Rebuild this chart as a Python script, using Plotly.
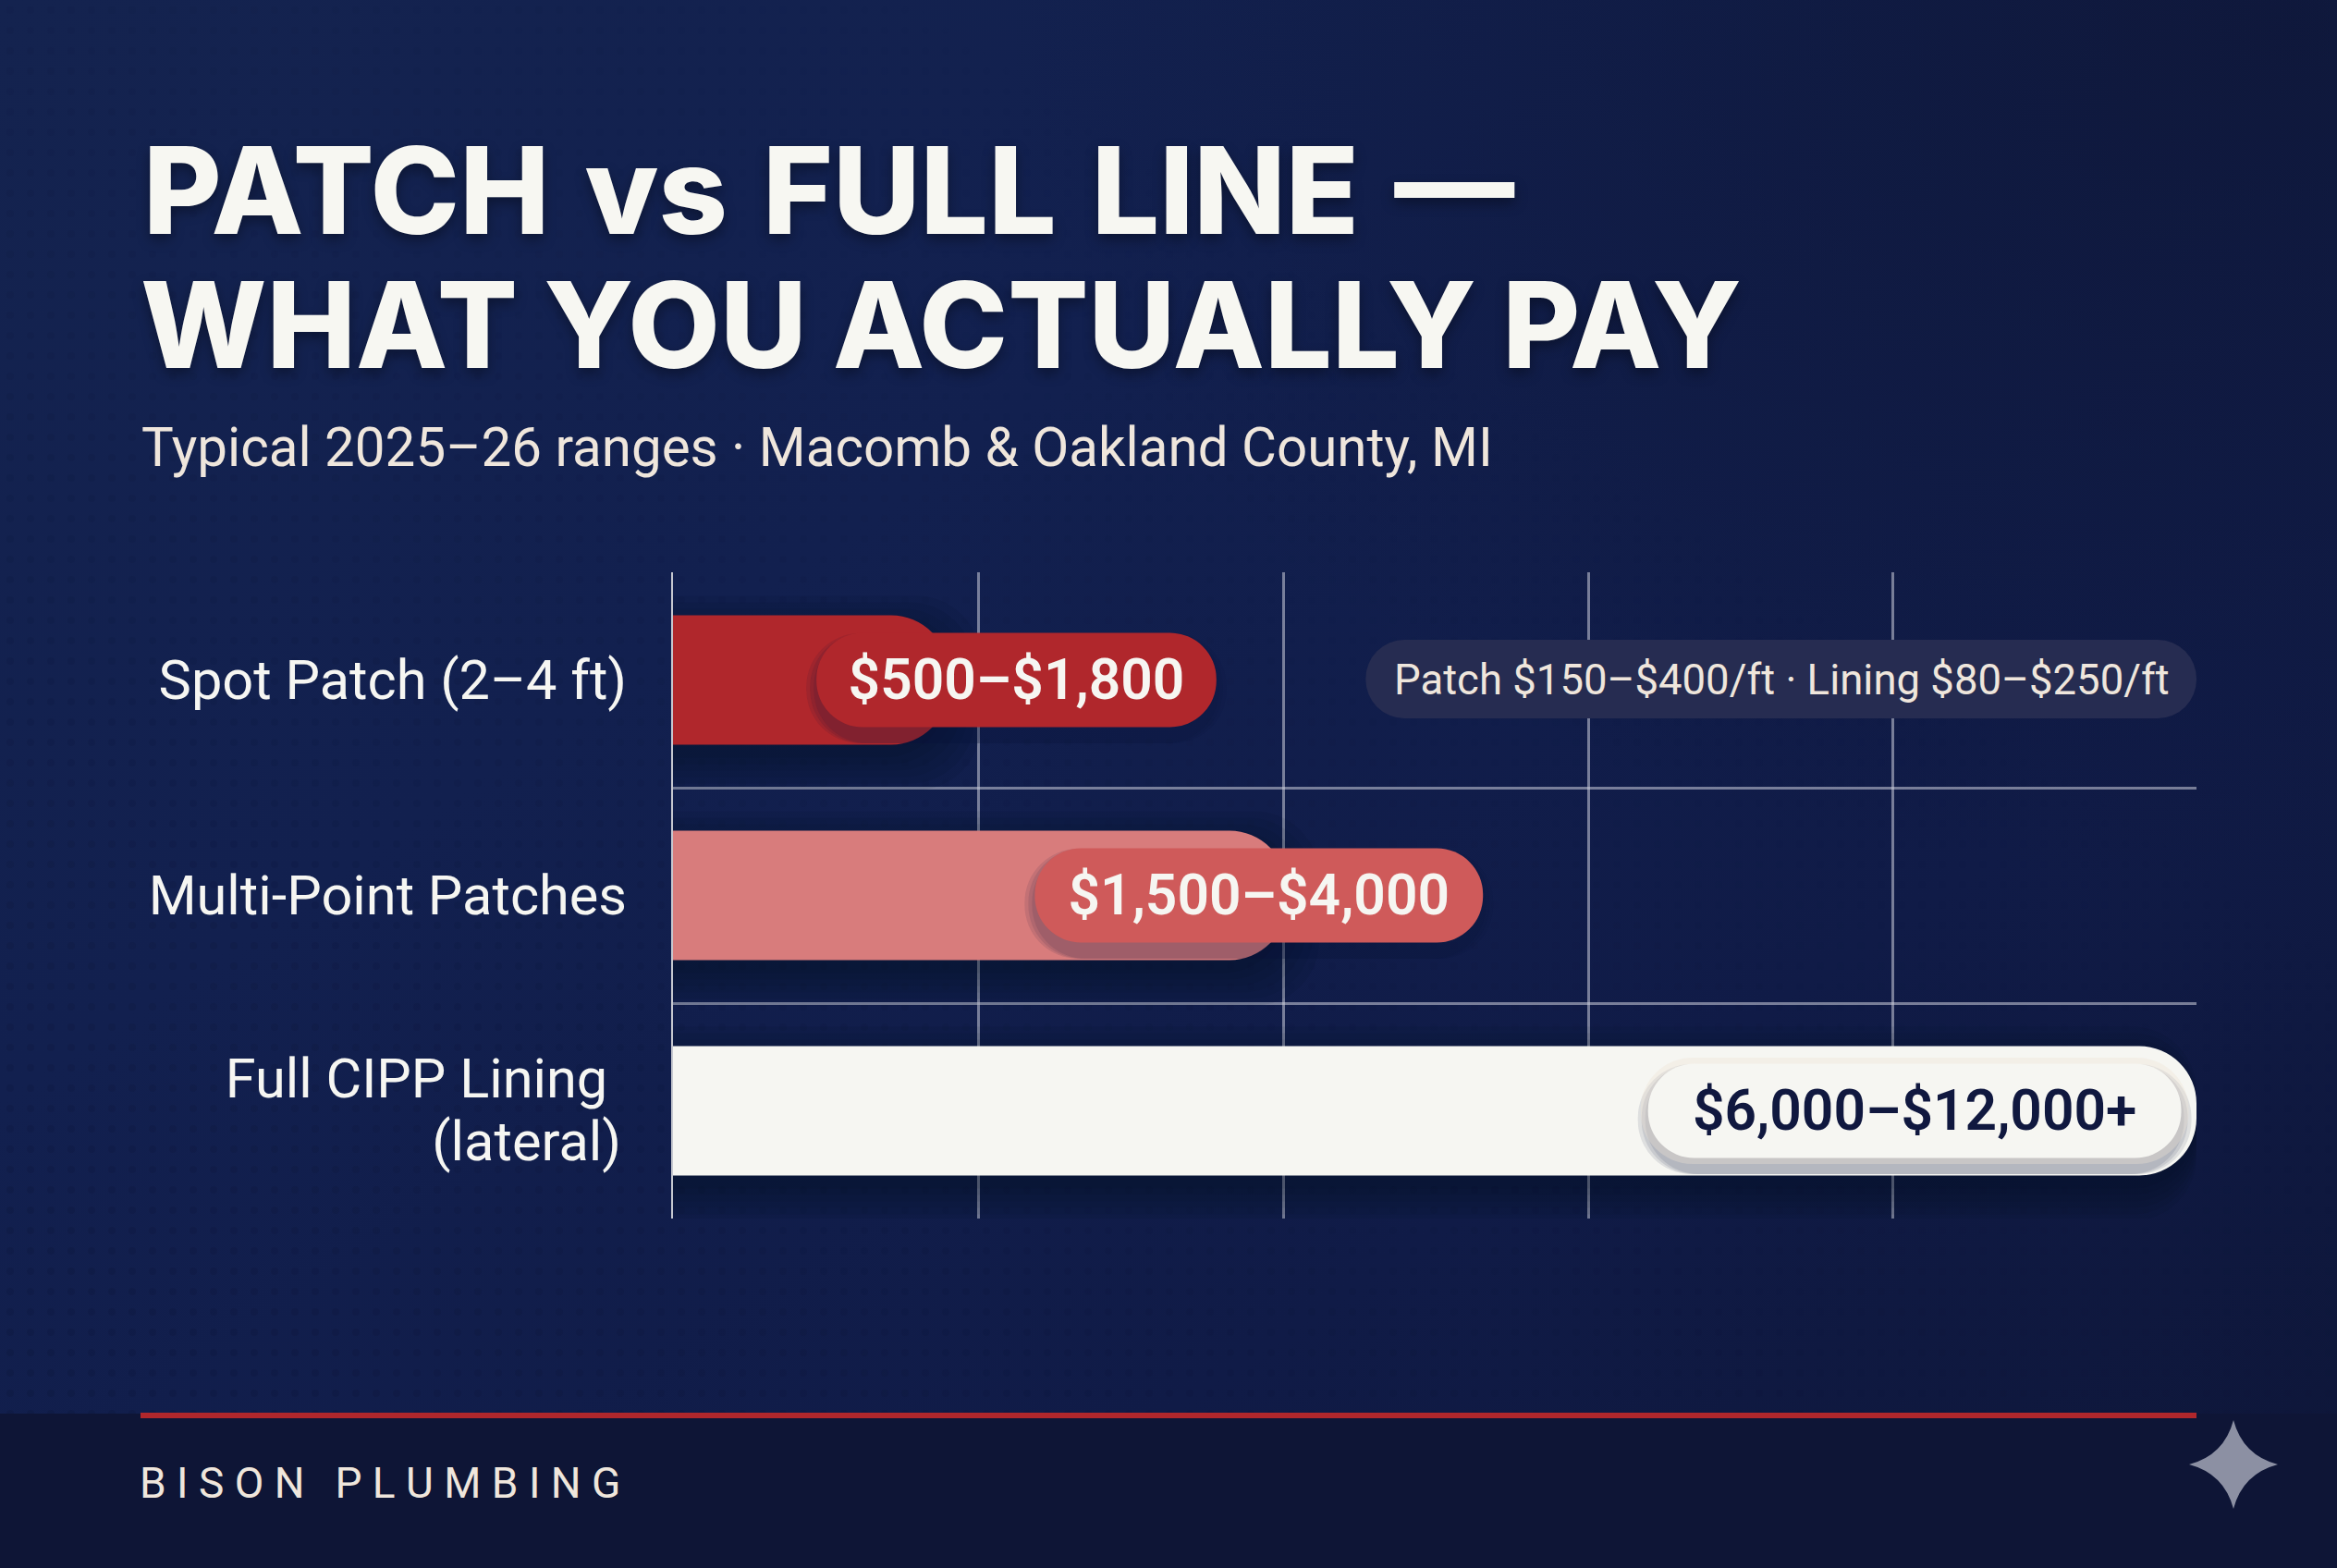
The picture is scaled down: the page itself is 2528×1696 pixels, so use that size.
import base64
import plotly.graph_objects as go

# ---------- data ----------
tick_rows = [0, 1, 1.85, 2.14]
tick_labels = ["Spot Patch (2–4 ft)", "Multi-Point Patches", "Full CIPP Lining\u00a0\u200a", "(lateral)\u200a"]
row = [0, 1, 2]
bar_end = [2170, 4835, 12000]
pill_start = [1130, 2850, 7680]
pill_end = [4280, 6380, 11880]
pill_labels = ["$500–$1,800", "$1,500–$4,000", "$6,000–$12,000+"]
note_text = "Patch $150–$400/ft · Lining $80–$250/ft"
note_start = [5456]
note_end = [12000]
grid_values = [2410, 4810, 7210, 9610]

bar_colors = ["#b0272c", "#d87c7c", "#f6f6f2"]
pill_colors = ["#b0272c", "#cf5a5a", "#f6f6f2"]
label_colors = ["#f6f6f2", "#f6f6f2", "#10183f"]

# ---------- page geometry ----------
W, H = 2528, 1696
L, R, T, B = 728, 2376, 619, 1318
PW, PH = R - L, B - T
UX = 12000 / PW          # axis units per pixel
UY = 3 / PH              # rows per pixel
HIDE = 80 * UX           # bars start left of the axis so only their far end shows rounded


def px(x):
    return (x - L) / PW


def py(y):
    return (B - y) / PH


svg = f"""<svg xmlns='http://www.w3.org/2000/svg' width='{W}' height='{H}' viewBox='0 0 {W} {H}'>
<defs>
<linearGradient id='g' x1='0' y1='0' x2='1' y2='1'>
<stop offset='0' stop-color='#14234f'/><stop offset='0.35' stop-color='#12204f'/>
<stop offset='0.7' stop-color='#101b47'/><stop offset='1' stop-color='#0e1638'/>
</linearGradient>
<radialGradient id='c' cx='0.98' cy='0.02' r='0.55'>
<stop offset='0' stop-color='#0e1636' stop-opacity='0.75'/><stop offset='1' stop-color='#0e1636' stop-opacity='0'/>
</radialGradient>
<pattern id='p' width='22' height='22' patternUnits='userSpaceOnUse'><circle cx='11' cy='11' r='4' fill='#0b1233'/></pattern>
<linearGradient id='f' x1='0' y1='1' x2='0.7' y2='0.3'>
<stop offset='0' stop-color='white' stop-opacity='0.22'/><stop offset='1' stop-color='white' stop-opacity='0'/>
</linearGradient>
<mask id='m'><rect width='{W}' height='{H}' fill='url(#f)'/></mask>
</defs>
<rect width='{W}' height='{H}' fill='url(#g)'/>
<rect width='{W}' height='{H}' fill='url(#c)'/>
<rect width='{W}' height='1529' fill='url(#p)' mask='url(#m)'/>
<rect y='1529' width='{W}' height='{H-1529}' fill='#0e1536'/>
</svg>"""
bg_uri = "data:image/svg+xml;base64," + base64.b64encode(svg.encode()).decode()

fig = go.Figure()


def hbar(y, start, end, width, color, radius):
    fig.add_trace(go.Bar(orientation="h", y=y, base=start, x=[b - a for a, b in zip(start, end)], width=width,
                         marker=dict(color=color, line=dict(width=0), cornerradius=radius),
                         hoverinfo="skip", showlegend=False))


bar_base = [-HIDE] * 3

# soft drop shadows under the bars
for k in range(6):
    grow = k * 7
    hbar([r + 14 * UY for r in row], bar_base, [min(v + grow * UX, 12000) for v in bar_end],
         (140 + grow * 2) * UY, "rgba(5,9,34,0.07)", 70)

# range bars
hbar(row, bar_base, bar_end, 140 * UY, bar_colors, 62)

# note pill
hbar([-1 * UY], note_start, note_end, 85 * UY, "#262c51", 42)

# pill shadow layers
for k in range(3):
    grow = 4 * k
    hbar([r + 9 * UY for r in row],
         [s - (3 + grow) * UX for s in pill_start],
         [e + (3 + grow) * UX for e in pill_end],
         119 * UY, "rgba(14,20,56,0.10)", 58)
# cream halo round the pale pill
hbar([2], [pill_start[2] - 8 * UX], [pill_end[2] + 8 * UX], 115 * UY, "rgba(238,226,212,0.35)", 56)

# value pills
hbar(row, pill_start, pill_end, 102 * UY, pill_colors, 50)

fig.add_trace(go.Scatter(
    x=[(a + b) / 2 for a, b in zip(pill_start, pill_end)], y=[r + 5 * UY for r in row], mode="text",
    text=pill_labels, textposition="middle center",
    textfont=dict(family="Roboto", size=60.5, color=label_colors, weight=600),
    hoverinfo="skip", showlegend=False, cliponaxis=False))


def text(x, y, s, size, color, weight=400, anchor="left", shadow=None, family="Roboto"):
    font = dict(family=family, size=size, color=color, weight=weight)
    if shadow:
        font["shadow"] = shadow
    return dict(xref="paper", yref="paper", x=px(x), y=py(y), text=s, showarrow=False,
                xanchor=anchor, yanchor="middle", font=font)


title_shadow = "0px 6px 14px rgba(0,0,0,0.35)"
annotations = [
    text(150, 351, "WHAT YOU ACTUALLY PAY", 129, "#f7f7f2", 800, shadow=title_shadow, family="Inter"),
    text(151, 484, "Typical 2025–26 ranges · Macomb & Oakland County, MI", 58.3, "#efe6dc"),
    text(1506, 735, note_text, 45.5, "#efe6dc"),
    text(149, 1604, "B\u00a0I\u00a0S\u00a0O\u00a0N\u2002\u2009P\u00a0L\u00a0U\u00a0M\u00a0B\u00a0I\u00a0N\u00a0G", 46, "#efe6dc"),
]

shapes = [
    dict(type="rect", xref="paper", yref="paper", x0=px(152), x1=px(2376), y0=py(1528), y1=py(1534),
         fillcolor="#b0272c", line_width=0, layer="below"),
    dict(type="path", xref="paper", yref="paper", fillcolor="#8c90a3", line_width=0, layer="above",
         path=(f"M {px(2416)} {py(1536)} Q {px(2426)} {py(1574)} {px(2464)} {py(1584)} "
               f"Q {px(2426)} {py(1594)} {px(2416)} {py(1632)} "
               f"Q {px(2406)} {py(1594)} {px(2368)} {py(1584)} "
               f"Q {px(2406)} {py(1574)} {px(2416)} {py(1536)} Z")),
]

fig.update_layout(
    width=W, height=H, autosize=False,
    margin=dict(l=L, r=W - R, t=T, b=H - B, pad=0),
    paper_bgcolor="#111d4b", plot_bgcolor="rgba(0,0,0,0)",
    barmode="overlay", showlegend=False,
    title=dict(text="PATCH\u200a vs\u200a FULL\u200a LINE\u200a —", x=155 / W, xanchor="left", xref="container",
               y=1 - 207.5 / H, yanchor="middle", yref="container", pad=dict(l=0, r=0, t=0, b=0),
               font=dict(family="Inter", size=130, color="#f7f7f2", weight=800, shadow=title_shadow)),
    xaxis=dict(range=[0, 12000], tickvals=grid_values, showticklabels=False, ticks="",
               showgrid=True, gridcolor="rgba(205,207,220,0.55)", gridwidth=3, zeroline=False, showline=False),
    yaxis=dict(range=[2.5, -0.5], tickvals=tick_rows, ticktext=tick_labels, ticks="",
               showgrid=False, zeroline=False, showline=True, linecolor="#c6c8d0", linewidth=2,
               ticklabelstandoff=36, tickfont=dict(family="Roboto", size=59.5, color="#f6f6f2"),
               minor=dict(tickvals=[0.5, 1.5], showgrid=True, gridcolor="rgba(205,207,220,0.55)",
                          gridwidth=3, ticks="")),
    images=[dict(source=bg_uri, xref="paper", yref="paper", x=px(0), y=py(0),
                 sizex=W / PW, sizey=H / PH, xanchor="left", yanchor="top",
                 sizing="stretch", layer="below")],
    annotations=annotations, shapes=shapes,
)

fig.write_html("out.html", config=dict(displayModeBar=False),
               post_script="document.body.style.margin='0';document.body.style.overflow='hidden';")
